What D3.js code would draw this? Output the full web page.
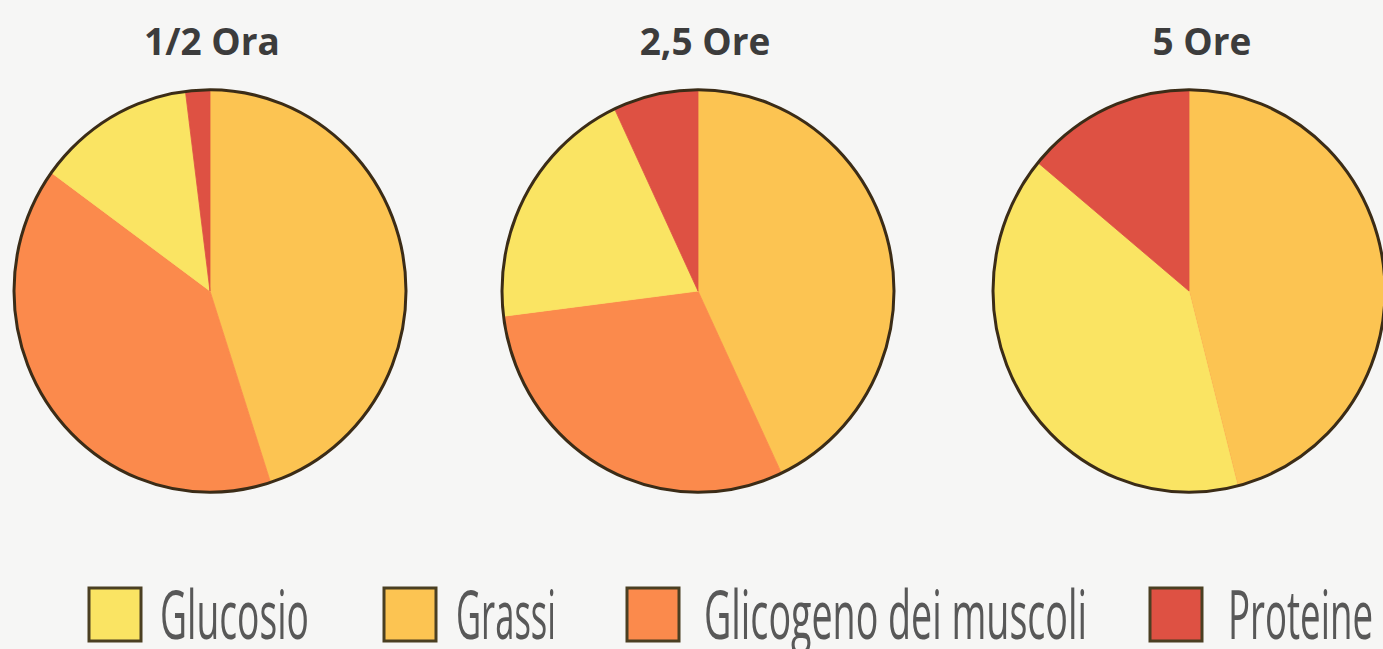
<!DOCTYPE html>
<html>
<head>
<meta charset="utf-8">
<script src="https://cdn.jsdelivr.net/npm/d3@7"></script>
<style>
  html, body { margin: 0; padding: 0; background: #f6f6f5; }
  svg { display: block; }
</style>
</head>
<body>
<svg width="1383" height="649"></svg>
<script>
// slice order inside each pie (clockwise from 12 o'clock)
var sliceKeys = ["Grassi", "Glicogeno", "Glucosio", "Proteine"]
var sliceColors = ["#fcc452", "#fb8a4c", "#fae463", "#de5143"]

var titles = ["1/2 Ora", "2,5 Ore", "5 Ore"]
var grassi    = [45, 43, 46]
var glicogeno = [40, 30, 0]
var glucosio  = [13, 20, 40]
var proteine  = [2, 7, 14]

var legendLabels = ["Glucosio", "Grassi", "Glicogeno dei muscoli", "Proteine"]
var legendColors = ["#fae463", "#fcc452", "#fb8a4c", "#de5143"]

var svg = d3.select("svg")

var centers = [[210, 291], [698, 291], [1189, 291]]
var titleX = [212, 705, 1202]
var r = 196

var color = d3.scaleOrdinal().domain(sliceKeys).range(sliceColors)
var pie = d3.pie().sort(null).value(function(d) { return d.v })
var arc = d3.arc().innerRadius(0).outerRadius(r)

titles.forEach(function(t, i) {
    var data = [
        { k: "Grassi", v: grassi[i] },
        { k: "Glicogeno", v: glicogeno[i] },
        { k: "Glucosio", v: glucosio[i] },
        { k: "Proteine", v: proteine[i] }
    ]
    var g = svg.append("g")
        .attr("transform", "translate(" + centers[i] + ") scale(1,1.027)")
    g.selectAll("path").data(pie(data)).enter().append("path")
        .attr("d", arc)
        .attr("fill", function(d) { return color(d.data.k) })
        .attr("stroke", function(d) { return color(d.data.k) })
        .attr("stroke-width", 0.8)
    g.append("circle")
        .attr("r", r)
        .attr("fill", "none")
        .attr("stroke", "#3b2c17")
        .attr("stroke-width", 3)

    svg.append("text")
        .attr("x", titleX[i]).attr("y", 55)
        .attr("text-anchor", "middle")
        .attr("font-family", "'Open Sans', sans-serif")
        .attr("font-weight", "bold")
        .attr("font-size", 37)
        .attr("fill", "#3c3c3c")
        .text(t)
})

// legend: tall, narrow lettering like the scan
var boxX = [89, 384, 627, 1150]
var textX = [160, 456, 704, 1228]
var textW = [149, 100, 383, 145]

var leg = svg.append("g")
leg.selectAll("rect").data(legendLabels).enter().append("rect")
    .attr("x", function(d, i) { return boxX[i] })
    .attr("y", 588)
    .attr("width", 52).attr("height", 53)
    .attr("fill", function(d, i) { return legendColors[i] })
    .attr("stroke", "#4a3f22")
    .attr("stroke-width", 3)

leg.selectAll("text").data(legendLabels).enter().append("text")
    .attr("x", function(d, i) { return textX[i] })
    .attr("y", 639)
    .attr("font-family", "'Open Sans', sans-serif")
    .attr("font-size", 68)
    .attr("fill", "#585858")
    .attr("textLength", function(d, i) { return textW[i] })
    .attr("lengthAdjust", "spacingAndGlyphs")
    .text(function(d) { return d })
</script>
</body>
</html>
